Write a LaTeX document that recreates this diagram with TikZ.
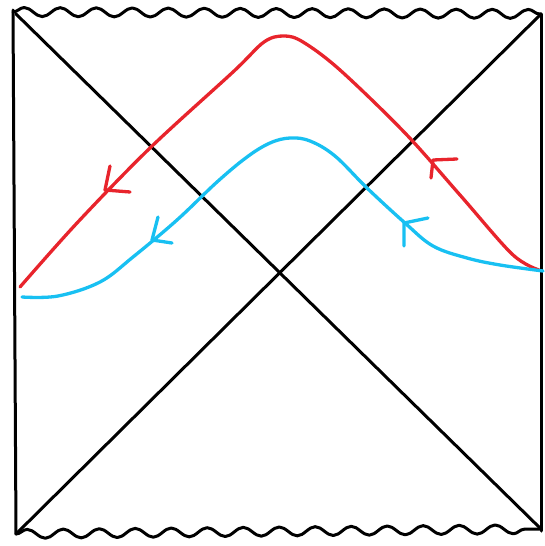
\documentclass[tikz,border=0pt]{standalone}
\usetikzlibrary{decorations.pathmorphing}
\definecolor{penred}{RGB}{232,36,44}
\definecolor{penblue}{RGB}{24,192,242}
\begin{document}
\begin{tikzpicture}[x=1pt,y=-1pt,line cap=round,line join=round,
  blk/.style={draw=black,line width=3pt},
  wavy/.style={blk,decorate,decoration={snake,amplitude=4.5pt,segment length=36pt}},
  redpen/.style={draw=penred,line width=3.3pt},
  bluepen/.style={draw=penblue,line width=3.3pt}]
\useasboundingbox (0,0) rectangle (545,546);
\coordinate (TL) at (13,12);
\coordinate (TR) at (541,14);
\coordinate (BL) at (16,534);
\coordinate (BR) at (541,529);
% frame
\draw[blk] (13,10) -- (BL);
\draw[blk] (TR) -- (541,531);
\draw[wavy] (TL) -- (TR);
\draw[wavy] (BL) -- (BR);
% diagonals
\draw[blk] (16,14) -- (BR);
\draw[blk] (BL) -- (TR);
% red curve
\draw[redpen] plot[smooth,tension=0.55] coordinates {(20,287) (77,223) (150,148) (233,72) (264,42) (284,36) (303,42) (340,70) (405,133) (460,195) (512,254) (539,270)};
\draw[redpen] (110,166) -- (105,190) -- (130,192);
\draw[redpen] (457,159) -- (433,160) -- (431,178);
% blue curve
\draw[bluepen] plot[smooth,tension=0.6] coordinates {(22,297) (58,296) (100,282) (133,257) (177,220) (217,182) (247,157) (270,143) (290,138) (310,141) (335,156) (367,188) (405,223) (433,246) (467,258) (500,265) (543,271)};
\draw[bluepen] (158,217) -- (152,240) -- (172,243);
\draw[bluepen] (428,218) -- (404,223) -- (404,246);
\end{tikzpicture}
\end{document}
